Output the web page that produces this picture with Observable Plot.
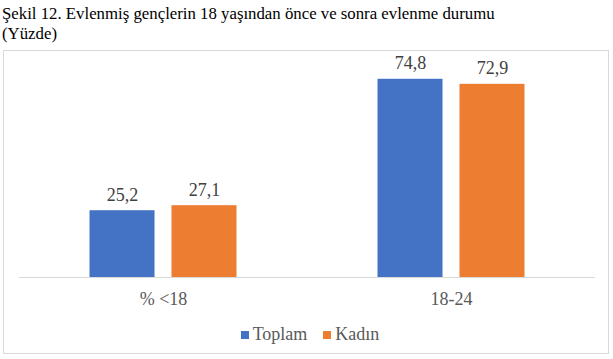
<!DOCTYPE html>
<html>
<head>
<meta charset="utf-8">
<script src="https://cdn.jsdelivr.net/npm/d3@7"></script>
<script src="https://cdn.jsdelivr.net/npm/@observablehq/plot@0.6"></script>
<style>
  html, body { margin: 0; padding: 0; background: #fff; }
  body { width: 613px; height: 359px; position: relative; overflow: hidden; font-family: "Liberation Serif", Tinos, "DejaVu Serif", serif; }
  #title { position: absolute; left: 2px; top: 4px; font-family: "Liberation Serif", Tinos, serif; font-size: 16.8px; line-height: 20px; color: #000; }
  #box { position: absolute; left: 3px; top: 50px; width: 604px; height: 302px; border: 1px solid #d9d9d9; }
  #legend { display: flex; justify-content: center; align-items: center; gap: 16px; font-size: 18px; color: #595959; margin-top: 8px; padding-left: 8px; }
  .sw { display: inline-flex; align-items: center; gap: 4px; }
  .sq { width: 8px; height: 8px; display: inline-block; }
</style>
</head>
<body>
<div id="title">Şekil 12. Evlenmiş gençlerin 18 yaşından önce ve sonra evlenme durumu<br>(Yüzde)</div>
<div id="box"><div id="chart"></div><div id="legend"></div></div>
<script>
const categories = ["% <18", "18-24"];
const series = ["Toplam", "Kadın"];
const toplam = [25.2, 74.8];
const kadin = [27.1, 72.9];
const colors = ["#4472C4", "#ED7D31"];

const data = [];
categories.forEach((c, i) => {
  data.push({category: c, series: series[0], value: toplam[i]});
  data.push({category: c, series: series[1], value: kadin[i]});
});
const fmt = v => v.toFixed(1).replace(".", ",");
const FONT = '"Liberation Serif", Tinos, "DejaVu Serif", serif';

const chart = Plot.plot({
  width: 604,
  height: 265,
  marginLeft: 15,
  marginRight: 13,
  marginTop: 14,
  marginBottom: 39,
  style: {fontFamily: FONT, background: "transparent"},
  fx: {domain: categories, padding: 0, axis: "bottom", tickSize: 0, tickPadding: 15, label: null, fontSize: 18},
  x: {domain: series, paddingInner: 0.207, paddingOuter: 0.86, round: false, axis: null},
  y: {domain: [0, 80], axis: null},
  color: {domain: series, range: colors},
  marks: [
    Plot.barY(data, {fx: "category", x: "series", y: "value", fill: "series"}),
    Plot.ruleY([0], {stroke: "#d9d9d9", strokeWidth: 1}),
    Plot.text(data, {fx: "category", x: "series", y: "value", text: d => fmt(d.value), lineAnchor: "bottom", dy: -10, fontSize: 18, fill: "#404040"})
  ]
});
chart.querySelectorAll("g[aria-label='fx-axis tick label']").forEach(el => { el.setAttribute("fill", "#595959"); el.style.fontSize = "18px"; });
document.getElementById("chart").appendChild(chart);

const legend = document.getElementById("legend");
series.forEach((s, i) => {
  const item = document.createElement("span");
  item.className = "sw";
  const sq = document.createElement("span");
  sq.className = "sq";
  sq.style.background = colors[i];
  item.appendChild(sq);
  item.appendChild(document.createTextNode(s));
  legend.appendChild(item);
});
</script>
</body>
</html>
